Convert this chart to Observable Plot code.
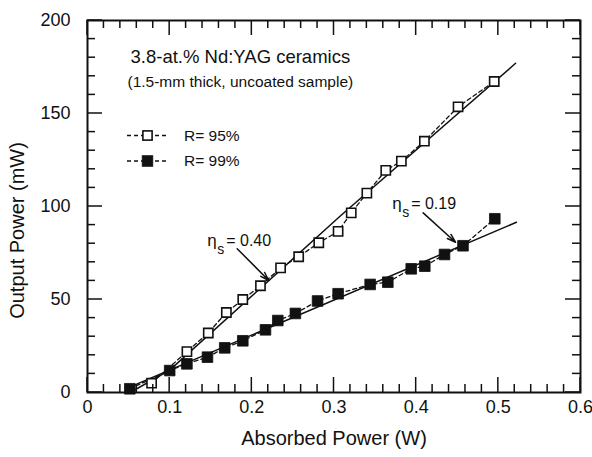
<!DOCTYPE html>
<html><head><meta charset="utf-8">
<script src="https://cdn.jsdelivr.net/npm/d3@7"></script>
<script src="https://cdn.jsdelivr.net/npm/@observablehq/plot@0.6"></script>
<style>
body{margin:0;background:#fff;}
#chart{width:592px;height:457px;}
#chart svg{font-family:"Liberation Sans",Arial,Helvetica,sans-serif;}
</style>
</head><body><div id="chart"></div>
<script>
// R = 95% (open squares)
const x95 = [0.078, 0.121, 0.147, 0.169, 0.189, 0.2105, 0.235, 0.257, 0.2815, 0.305, 0.321, 0.340, 0.363, 0.382, 0.410, 0.451, 0.495];
const y95 = [5, 22, 32, 43, 50, 57.4, 67, 73, 80.5, 86.6, 96.6, 107.2, 119.4, 124.4, 135.1, 153.6, 167.2];
// R = 99% (filled squares)
const x99 = [0.0515, 0.100, 0.121, 0.146, 0.167, 0.189, 0.2166, 0.2316, 0.253, 0.280, 0.305, 0.344, 0.3655, 0.394, 0.4105, 0.4345, 0.457, 0.4957];
const y99 = [2, 11.8, 15.4, 19, 24, 27.8, 33.7, 38.7, 42.5, 49.2, 53.1, 58.1, 59.3, 66.5, 67.9, 74.2, 78.9, 93.4];
// linear fits (slope efficiency)
const fit95X = [0.052, 0.100, 0.308, 0.521];
const fit95Y = [0, 12, 95, 177];
const fit99X = [0.052, 0.522];
const fit99Y = [3, 91.5];
// annotations
const etaValues = ["0.40", "0.19"];
const etaX = [0.1457, 0.3708];
const etaY = [79, 98.4];
const arrowX1 = [0.1822, 0.4085];
const arrowY1 = [77.3, 96.6];
const arrowX2 = [0.2206, 0.4479];
const arrowY2 = [60.2, 80.8];
// axes
const xTicks = [0, 0.1, 0.2, 0.3, 0.4, 0.5, 0.6];
const yTicks = [0, 50, 100, 150, 200];
const xMinor = d3.range(0, 31).map(i => i * 0.02).filter(v => Math.abs(v * 10 - Math.round(v * 10)) > 1e-6);
const yMinor = d3.range(0, 21).map(i => i * 10).filter(v => v % 50 !== 0);
const xLabel = "Absorbed Power (W)";
const yLabel = "Output Power (mW)";
const chartTitle = "3.8-at.% Nd:YAG ceramics";
const chartSubtitle = "(1.5-mm thick, uncoated sample)";
const seriesNames = ["R= 95%", "R= 99%"];

(function () {
const d95 = x95.map((x, i) => ({x, y: y95[i]}));
const d99 = x99.map((x, i) => ({x, y: y99[i]}));
const f95 = fit95X.map((x, i) => ({x, y: fit95Y[i]}));
const f99 = fit99X.map((x, i) => ({x, y: fit99Y[i]}));
const anno = etaValues.map((v, i) => ({v, x: etaX[i], y: etaY[i], x1: arrowX1[i], y1: arrowY1[i], x2: arrowX2[i], y2: arrowY2[i]}));

const ink = "#111";
const xDom = [0, 0.6], yDom = [0, 200];

const plot = Plot.plot({
  width: 592, height: 457,
  marginLeft: 87, marginRight: 12, marginTop: 20, marginBottom: 65,
  x: {domain: xDom},
  y: {domain: yDom},
  marks: [
    Plot.line(f95, {x: "x", y: "y", stroke: ink, strokeWidth: 1.5}),
    Plot.line(f99, {x: "x", y: "y", stroke: ink, strokeWidth: 1.5}),
    Plot.line(d95, {x: "x", y: "y", stroke: ink, strokeWidth: 1.3, strokeDasharray: "4,3"}),
    Plot.line(d99, {x: "x", y: "y", stroke: ink, strokeWidth: 1.3, strokeDasharray: "4,3"}),
    Plot.dot(d95, {x: "x", y: "y", symbol: "square", r: 5.2, fill: "white", stroke: ink, strokeWidth: 1.6}),
    Plot.dot(d99, {x: "x", y: "y", symbol: "square", r: 6, fill: ink, stroke: ink, strokeWidth: 0.8}),
    Plot.arrow(anno, {x1: "x1", y1: "y1", x2: "x2", y2: "y2", stroke: ink, strokeWidth: 1.5, headLength: 9, headAngle: 35}),
    Plot.text(anno, {x: "x", y: "y", text: () => "\u03b7", textAnchor: "start", lineAnchor: "bottom", fontSize: 17, fill: ink}),
    Plot.text(anno, {x: "x", y: "y", text: () => "s", dx: 10, dy: 8, textAnchor: "start", lineAnchor: "bottom", fontSize: 14, fill: ink}),
    Plot.text(anno, {x: "x", y: "y", text: d => "= " + d.v, dx: 19, textAnchor: "start", lineAnchor: "bottom", fontSize: 16, fill: ink}),
    Plot.text([chartTitle], {frameAnchor: "top-left", dx: 43, dy: 42, text: d => d, textAnchor: "start", lineAnchor: "bottom", fontSize: 18.5, fill: ink}),
    Plot.text([chartSubtitle], {frameAnchor: "top-left", dx: 40, dy: 66, text: d => d, textAnchor: "start", lineAnchor: "bottom", fontSize: 15.5, fill: ink}),
    Plot.text([xLabel], {frameAnchor: "bottom", dy: 52, text: d => d, textAnchor: "middle", lineAnchor: "bottom", fontSize: 20, fill: ink}),
    Plot.text([yLabel], {frameAnchor: "left", dx: -70, dy: 24, rotate: -90, text: d => d, textAnchor: "middle", fontSize: 20, fill: ink}),
    Plot.axisX(xTicks, {anchor: "bottom", tickSize: 0, tickPadding: 8, fontSize: 18, fill: ink, label: null, tickFormat: d => d === 0 ? "0" : d3.format(".1f")(d)}),
    Plot.axisY(yTicks, {anchor: "left", tickSize: 0, tickPadding: 17, fontSize: 18, fill: ink, label: null}),
    Plot.frame({stroke: ink, strokeWidth: 2})
  ]
});
document.getElementById("chart").appendChild(plot);

const svg = d3.select(plot);
const sx = plot.scale("x"), sy = plot.scale("y");
const X = v => sx.apply(v), Y = v => sy.apply(v);
const pL = X(xDom[0]), pR = X(xDom[1]), pB = Y(yDom[0]), pT = Y(yDom[1]);

// inward ticks on all four sides
const tg = svg.append("g").attr("stroke", ink).attr("stroke-width", 1.5);
[[xTicks, 15], [xMinor, 8]].forEach(([vals, len]) => {
  vals.forEach(v => {
    tg.append("line").attr("x1", X(v)).attr("x2", X(v)).attr("y1", pB).attr("y2", pB - len);
    tg.append("line").attr("x1", X(v)).attr("x2", X(v)).attr("y1", pT).attr("y2", pT + len);
  });
});
[[yTicks, 15], [yMinor, 8]].forEach(([vals, len]) => {
  vals.forEach(v => {
    tg.append("line").attr("y1", Y(v)).attr("y2", Y(v)).attr("x1", pL).attr("x2", pL + len);
    tg.append("line").attr("y1", Y(v)).attr("y2", Y(v)).attr("x1", pR).attr("x2", pR - len);
  });
});

// legend inside the frame (pixel layout)
const lg = svg.append("g").attr("text-anchor", "start");
const rows = [{y: 135.5, fill: "white"}, {y: 161, fill: ink}];
rows.forEach((r, i) => {
  lg.append("line").attr("x1", 127).attr("x2", 167).attr("y1", r.y).attr("y2", r.y)
    .attr("stroke", ink).attr("stroke-width", 1.3).attr("stroke-dasharray", "4,3");
  const s = i === 0 ? 9.2 : 10.6;
  lg.append("rect").attr("x", 147.5 - s / 2).attr("y", r.y - s / 2).attr("width", s).attr("height", s)
    .attr("fill", r.fill).attr("stroke", ink).attr("stroke-width", i === 0 ? 1.6 : 0.8);
  lg.append("text").attr("x", 184).attr("y", r.y).attr("dy", "0.35em").attr("text-anchor", "start")
    .attr("font-size", 15.5).attr("fill", ink).text(seriesNames[i]);
});
})();
</script>
</body></html>
